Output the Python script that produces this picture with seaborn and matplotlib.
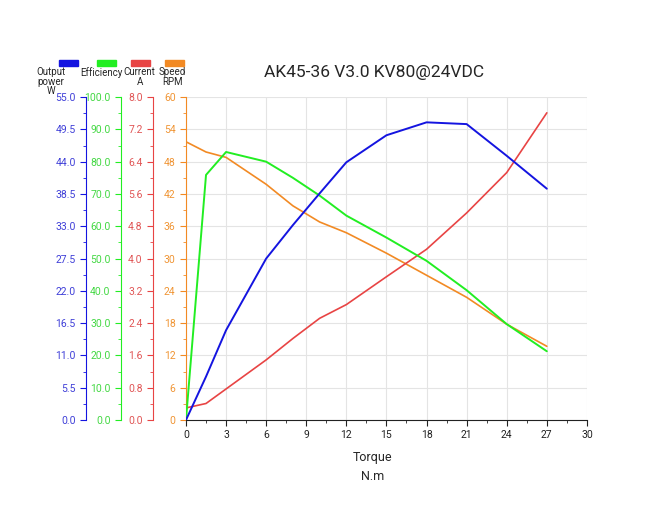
import numpy as np
import pandas as pd
import matplotlib
matplotlib.use("Agg")
import matplotlib.pyplot as plt
from matplotlib.ticker import MultipleLocator, FormatStrFormatter
from matplotlib.patches import Rectangle
import seaborn as sns

# Données
torque = [0, 1.5, 3, 6, 8, 10, 12, 15, 18, 21, 24, 27]
speed_rpm = [51.7, 49.8, 48.8, 43.8, 39.8, 36.8, 34.8, 31.0, 26.9, 22.8, 17.8, 13.7]
efficiency = [0, 75.9, 83.0, 80.0, 75.0, 69.5, 63.3, 56.5, 49.3, 40.2, 29.7, 21.3]
current_a = [0.30, 0.41, 0.77, 1.49, 2.02, 2.52, 2.86, 3.55, 4.23, 5.13, 6.13, 7.61]
power_w = [0, 7.4, 15.3, 27.5, 33.2, 38.6, 43.9, 48.5, 50.7, 50.4, 45.0, 39.4]

title = "AK45-36 V3.0 KV80@24VDC"
legend_labels = ["Output\npower\nW", "Efficiency", "Current\nA", "Speed\nRPM"]

df = pd.DataFrame({"torque": torque, "speed": speed_rpm, "eff": efficiency,
                   "cur": current_a, "pow": power_w})

sns.set_style("white")
plt.rcParams['font.family'] = ['Roboto', 'DejaVu Sans']

c_blue, c_green, c_red, c_orange = "#1414e0", "#22ee22", "#e84444", "#f28a24"
t_blue, t_green, t_red, t_orange = "#4040d8", "#44d844", "#e05555", "#f09535"

fig = plt.figure(figsize=(6.53, 5.11), dpi=100)
ax = fig.add_axes([0.2848, 0.178, 0.614, 0.632])

# axe principal : vitesse
sns.lineplot(data=df, x="torque", y="speed", ax=ax, color=c_orange, lw=1.2)
ax.set_xlim(0, 30)
ax.set_ylim(0, 60)
ax.xaxis.set_major_locator(MultipleLocator(3))
ax.xaxis.set_minor_locator(MultipleLocator(1.5))
ax.yaxis.set_major_locator(MultipleLocator(6))
ax.yaxis.set_minor_locator(MultipleLocator(3))
ax.grid(True, which="major", color="#e4e4e4", lw=0.8)
ax.set_axisbelow(True)
for s in ["top", "right"]:
    ax.spines[s].set_visible(False)
ax.spines["left"].set_color(c_orange)
ax.spines["bottom"].set_color("#222222")
ax.tick_params(axis="y", which="both", direction="out", colors=c_orange, labelcolor=t_orange,
               labelsize=7.5, left=True)
ax.tick_params(axis="y", which="major", length=4)
ax.tick_params(axis="y", which="minor", length=2)
ax.tick_params(axis="x", which="both", direction="out", colors="#222222", labelsize=7.5, bottom=True)
ax.tick_params(axis="x", which="major", length=4)
ax.tick_params(axis="x", which="minor", length=2)
ax.set_xlabel("Torque\nN.m", fontsize=9, linespacing=1.6)
ax.xaxis.set_label_coords(0.466, -0.095)
ax.xaxis.label.set_va("top")
ax.set_ylabel("")


def extra_axis(pos, col, tcol, ylim, major, minor, fmt):
    tw = ax.twinx()
    for s in ["top", "right", "bottom"]:
        tw.spines[s].set_visible(False)
    tw.spines["left"].set_visible(True)
    tw.spines["left"].set_position(("axes", pos))
    tw.spines["left"].set_color(col)
    tw.yaxis.set_ticks_position("left")
    tw.yaxis.set_label_position("left")
    tw.set_ylim(*ylim)
    tw.yaxis.set_major_locator(MultipleLocator(major))
    tw.yaxis.set_minor_locator(MultipleLocator(minor))
    tw.yaxis.set_major_formatter(FormatStrFormatter(fmt))
    tw.tick_params(axis="y", which="both", direction="out", colors=col, labelcolor=tcol, labelsize=7.5)
    tw.tick_params(axis="y", which="major", length=4)
    tw.tick_params(axis="y", which="minor", length=2)
    tw.grid(False)
    return tw


ax_cur = extra_axis(-0.0823, c_red, t_red, (0, 8), 0.8, 0.4, "%.1f")
ax_eff = extra_axis(-0.162, c_green, t_green, (0, 100), 10, 5, "%.1f")
ax_pow = extra_axis(-0.249, c_blue, t_blue, (0, 55), 5.5, 2.75, "%.1f")

sns.lineplot(data=df, x="torque", y="cur", ax=ax_cur, color=c_red, lw=1.2)
sns.lineplot(data=df, x="torque", y="eff", ax=ax_eff, color=c_green, lw=1.4)
sns.lineplot(data=df, x="torque", y="pow", ax=ax_pow, color=c_blue, lw=1.4)
for a in (ax_cur, ax_eff, ax_pow):
    a.set_ylabel("")
    a.set_xlabel("")

fig.text(0.573, 0.859, title, ha="center", va="center", fontsize=12.5)

# légende en haut des axes (une ligne de texte à la fois)
rect_x = [0.090, 0.148, 0.200, 0.252]
text_x = [0.078, 0.155, 0.214, 0.264]
for rx, tx, lab, col in zip(rect_x, text_x, legend_labels,
                            [c_blue, c_green, c_red, c_orange]):
    fig.patches.append(Rectangle((rx, 0.870), 0.030, 0.013, transform=fig.transFigure,
                                 color=col, figure=fig))
    for i, line in enumerate(lab.split("\n")):
        fig.text(tx, 0.859 - i * 0.019, line, ha="center", va="center", fontsize=7)

fig.savefig("out.png", dpi=100)
